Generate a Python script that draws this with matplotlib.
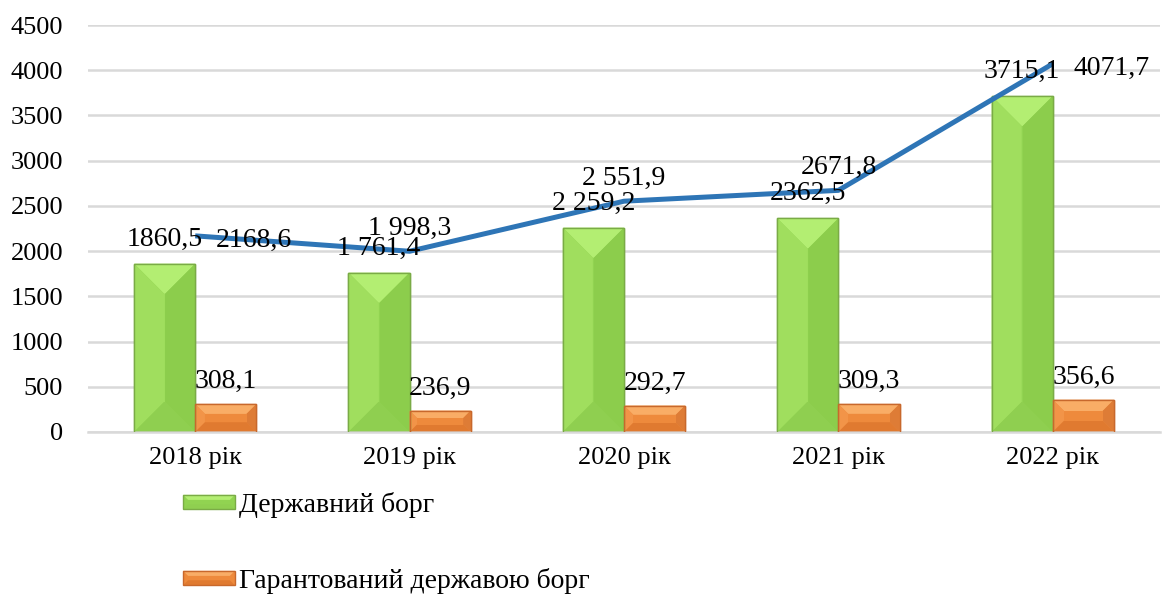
import matplotlib
matplotlib.use("Agg")
import matplotlib.pyplot as plt
from matplotlib.patches import Polygon, Rectangle
from matplotlib.legend_handler import HandlerPatch
import numpy as np

plt.rcParams['font.family'] = ['Liberation Serif', 'DejaVu Serif']

categories = ["2018 рік", "2019 рік", "2020 рік", "2021 рік", "2022 рік"]
state_debt = [1860.5, 1761.4, 2259.2, 2362.5, 3715.1]
guaranteed_debt = [308.1, 236.9, 292.7, 309.3, 356.6]
total_debt = [2168.6, 1998.3, 2551.9, 2671.8, 4071.7]

state_labels = ["1860,5", "1 761,4", "2 259,2", "2362,5", "3715,1"]
guar_labels = ["308,1", "236,9", "292,7", "309,3", "356,6"]
total_labels = ["2168,6", "1 998,3", "2 551,9", "2671,8", "4071,7"]
total_label_pos = ["right", "above", "above", "above", "right"]

series_names = ["Державний борг", "Гарантований державою борг"]

W, H, DPI = 1169, 597, 100
fig = plt.figure(figsize=(W / DPI, H / DPI), dpi=DPI)
ax = fig.add_axes([88 / W, 1 - 432 / H, (1160 - 88) / W, (432 - 25) / H])

x = np.arange(len(categories))
bw = 0.285
ax.set_xlim(-0.5, len(categories) - 0.5)
ax.set_ylim(0, 4500)
ax.set_yticks(np.arange(0, 4501, 500))
ax.yaxis.grid(True, color="#d9d9d9", linewidth=1.8)
ax.set_axisbelow(True)
for s in ["top", "right", "left"]:
    ax.spines[s].set_visible(False)
ax.spines["bottom"].set_color("#d9d9d9")
ax.spines["bottom"].set_linewidth(1.8)
ax.tick_params(axis="both", length=0, labelsize=19, colors="black")
ax.tick_params(axis="y", pad=18)
ax.tick_params(axis="x", pad=11)
ax.set_xticks(x)
ax.set_xticklabels(categories)

green = dict(main="#91d351", inner_left="#9edd5c", top="#b3ee72", left="#a0de5e",
             right="#8ccd4c", bottom="#8fcf50", edge="#7aab46")
orange = dict(main="#ee8a3c", inner_left="#ee8a3c", top="#f9ad66", left="#f29448",
              right="#de7c36", bottom="#e07a30", edge="#c8682c")

bars1 = ax.bar(x - bw / 2, state_debt, bw, color=green["main"], edgecolor=green["edge"],
               linewidth=1.0, zorder=2)
bars2 = ax.bar(x + bw / 2, guaranteed_debt, bw, color=orange["main"], edgecolor=orange["edge"],
               linewidth=1.0, zorder=2)

fig.canvas.draw()
to_px = ax.transData
to_data = ax.transData.inverted()


def bevel(rect, pal):
    x0, y0 = rect.get_x(), rect.get_y()
    x1, y1 = x0 + rect.get_width(), y0 + rect.get_height()
    (px0, py0), (px1, py1) = to_px.transform([(x0, y0), (x1, y1)])
    wpx, hpx = px1 - px0, py1 - py0
    b = min(wpx / 2, hpx * 0.35, 30)
    ix0, ix1 = px0 + b, px1 - b
    iy0, iy1 = py0 + b, py1 - b
    faces = [
        ([(px0, py1), (px1, py1), (ix1, iy1), (ix0, iy1)], pal["top"]),
        ([(px0, py0), (px0, py1), (ix0, iy1), (ix0, iy0)], pal["left"]),
        ([(px1, py0), (px1, py1), (ix1, iy1), (ix1, iy0)], pal["right"]),
        ([(px0, py0), (px1, py0), (ix1, iy0), (ix0, iy0)], pal["bottom"]),
    ]
    for pts, c in faces:
        ax.add_patch(Polygon(to_data.transform(pts), closed=True, facecolor=c,
                             edgecolor="none", zorder=2.5))
    if ix1 - ix0 > 0.5 and iy1 - iy0 > 0.5:
        mid = (ix0 + ix1) / 2
        ax.add_patch(Polygon(to_data.transform([(ix0, iy0), (mid, iy0), (mid, iy1), (ix0, iy1)]),
                             closed=True, facecolor=pal["inner_left"], edgecolor="none", zorder=2.6))
        ax.add_patch(Polygon(to_data.transform([(mid, iy0), (ix1, iy0), (ix1, iy1), (mid, iy1)]),
                             closed=True, facecolor=pal["main"], edgecolor="none", zorder=2.6))
    ax.add_patch(Rectangle((x0, y0), x1 - x0, y1 - y0, facecolor="none",
                           edgecolor=pal["edge"], linewidth=1.0, zorder=2.7))


for r in bars1:
    bevel(r, green)
for r in bars2:
    bevel(r, orange)

ax.plot(x, total_debt, color="#2e75b6", linewidth=3.6, zorder=3, solid_capstyle="butt")

lab_fs = 20
for xi, v, t in zip(x - bw / 2, state_debt, state_labels):
    ax.annotate(t, (xi, v), xytext=(0, 13), textcoords="offset points",
                ha="center", va="baseline", fontsize=lab_fs, zorder=4)
for xi, v, t in zip(x + bw / 2, guaranteed_debt, guar_labels):
    ax.annotate(t, (xi, v), xytext=(0, 11.5), textcoords="offset points",
                ha="center", va="baseline", fontsize=lab_fs, zorder=4)
for xi, v, t, p in zip(x, total_debt, total_labels, total_label_pos):
    if p == "right":
        ax.annotate(t, (xi, v), xytext=(15, -8), textcoords="offset points",
                    ha="left", va="baseline", fontsize=lab_fs, zorder=4)
    else:
        ax.annotate(t, (xi, v), xytext=(0, 12), textcoords="offset points",
                    ha="center", va="baseline", fontsize=lab_fs, zorder=4)


class BevelHandler(HandlerPatch):
    def __init__(self, pal):
        super().__init__()
        self.pal = pal

    def create_artists(self, legend, orig_handle, xdescent, ydescent, width, height,
                       fontsize, trans):
        p = self.pal
        x0, y0 = -xdescent, -ydescent
        x1, y1 = x0 + width, y0 + height
        b = height * 0.35
        arts = []
        pts_list = [
            ([(x0, y0), (x1, y0), (x1, y1), (x0, y1)], p["main"]),
            ([(x0, y1), (x1, y1), (x1 - b, y1 - b), (x0 + b, y1 - b)], p["top"]),
            ([(x0, y0), (x1, y0), (x1 - b, y0 + b), (x0 + b, y0 + b)], p["bottom"]),
        ]
        for pts, c in pts_list:
            poly = Polygon(pts, closed=True, facecolor=c, edgecolor="none", transform=trans)
            arts.append(poly)
        arts.append(Rectangle((x0, y0), width, height, facecolor="none",
                              edgecolor=p["edge"], linewidth=1.0, transform=trans))
        return arts


h1 = Rectangle((0, 0), 1, 1, facecolor=green["main"])
h2 = Rectangle((0, 0), 1, 1, facecolor=orange["main"])
leg = fig.legend([h1, h2], series_names, loc="upper left",
                 bbox_to_anchor=(183 / W, 1 - 492 / H), frameon=False, fontsize=20,
                 handlelength=1.87, handleheight=0.43, handletextpad=0.15,
                 labelspacing=1.8, borderpad=0, borderaxespad=0,
                 handler_map={h1: BevelHandler(green), h2: BevelHandler(orange)})

fig.savefig("out.png", dpi=DPI)
